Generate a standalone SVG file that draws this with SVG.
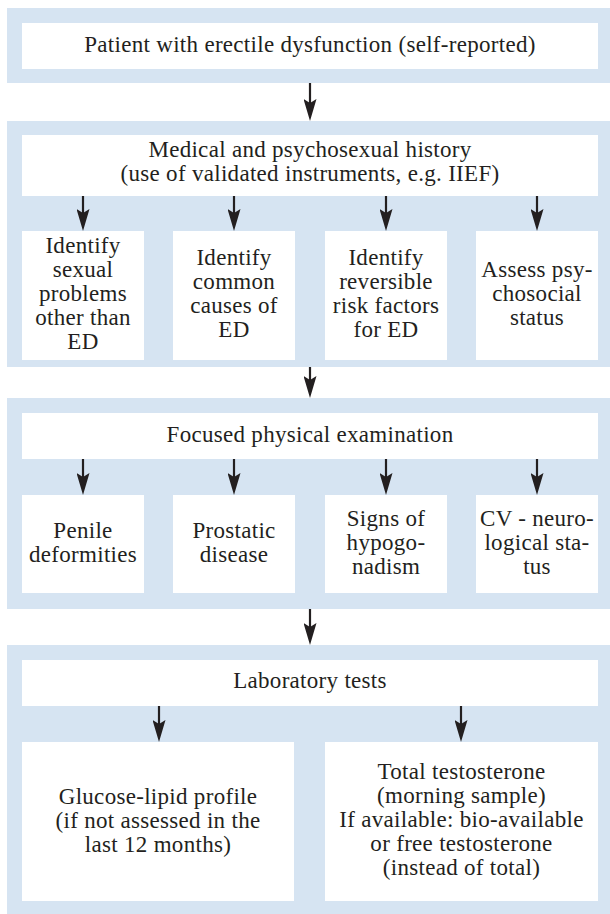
<svg xmlns="http://www.w3.org/2000/svg" width="610" height="914" viewBox="0 0 610 914" font-family="'Liberation Serif', 'Times New Roman', 'DejaVu Serif', serif">
<defs>
<style>
.panel{fill:#d6e4f2}
.box{fill:#ffffff}
text{font-family:'Liberation Serif','Times New Roman','DejaVu Serif',serif;font-size:23px;letter-spacing:0.3px;fill:#231f20;text-anchor:middle}
.arr{stroke:#231f20;stroke-width:2.2;fill:none;marker-end:url(#head)}
</style>
<marker id="head" viewBox="0 0 22 13" markerWidth="22" markerHeight="13" refX="6" refY="6.5" orient="auto" markerUnits="userSpaceOnUse">
<path d="M0,0 L22,6.5 L0,13 L4,6.5 z" fill="#231f20"/>
</marker>
</defs>
<rect width="610" height="914" fill="#ffffff"/>

<g id="panel1">
<rect class="panel" x="7" y="8" width="603" height="75"/>
<g id="n-patient"><rect class="box" x="22" y="23" width="576" height="46"/>
<text x="310" y="52">Patient with erectile dysfunction (self-reported)</text></g>
</g>

<g id="panel2">
<rect class="panel" x="7" y="121" width="603" height="246"/>
<g id="n-history"><rect class="box" x="22" y="135" width="576" height="61"/>
<text x="310" y="157">Medical and psychosexual history</text>
<text x="310" y="181">(use of validated instruments, e.g. IIEF)</text></g>
<g id="n-sexual"><rect class="box" x="22" y="231" width="122" height="129"/>
<text x="83" y="253">Identify</text><text x="83" y="277">sexual</text><text x="83" y="301">problems</text><text x="83" y="325">other than</text><text x="83" y="349">ED</text></g>
<g id="n-causes"><rect class="box" x="173" y="231" width="122" height="129"/>
<text x="234" y="265">Identify</text><text x="234" y="289">common</text><text x="234" y="313">causes of</text><text x="234" y="337">ED</text></g>
<g id="n-risk"><rect class="box" x="325" y="231" width="122" height="129"/>
<text x="386" y="265">Identify</text><text x="386" y="289">reversible</text><text x="386" y="313">risk factors</text><text x="386" y="337">for ED</text></g>
<g id="n-psycho"><rect class="box" x="476" y="231" width="122" height="129"/>
<text x="537" y="277">Assess psy-</text><text x="537" y="301">chosocial</text><text x="537" y="325">status</text></g>
</g>

<g id="panel3">
<rect class="panel" x="7" y="398" width="603" height="211"/>
<g id="n-exam"><rect class="box" x="22" y="413" width="576" height="46"/>
<text x="310" y="442">Focused physical examination</text></g>
<g id="n-penile"><rect class="box" x="22" y="495" width="122" height="98"/>
<text x="83" y="538">Penile</text><text x="83" y="562">deformities</text></g>
<g id="n-prostatic"><rect class="box" x="173" y="495" width="122" height="98"/>
<text x="234" y="538">Prostatic</text><text x="234" y="562">disease</text></g>
<g id="n-hypo"><rect class="box" x="325" y="495" width="122" height="98"/>
<text x="386" y="526">Signs of</text><text x="386" y="550">hypogo-</text><text x="386" y="574">nadism</text></g>
<g id="n-cv"><rect class="box" x="476" y="495" width="122" height="98"/>
<text x="537" y="526">CV - neuro-</text><text x="537" y="550">logical sta-</text><text x="537" y="574">tus</text></g>
</g>

<g id="panel4">
<rect class="panel" x="7" y="645" width="603" height="269"/>
<g id="n-lab"><rect class="box" x="22" y="660" width="576" height="46"/>
<text x="310" y="688">Laboratory tests</text></g>
<g id="n-glucose"><rect class="box" x="22" y="742" width="272" height="159"/>
<text x="158" y="804">Glucose-lipid profile</text><text x="158" y="828">(if not assessed in the</text><text x="158" y="852">last 12 months)</text></g>
<g id="n-testo"><rect class="box" x="325" y="742" width="273" height="159"/>
<text x="461.5" y="779">Total testosterone</text><text x="461.5" y="803">(morning sample)</text><text x="461.5" y="827">If available: bio-available</text><text x="461.5" y="851">or free testosterone</text><text x="461.5" y="875">(instead of total)</text></g>
</g>

<g id="connectors">
<line class="arr" x1="310" y1="83" x2="310" y2="105"/>
<line class="arr" x1="83" y1="196" x2="83" y2="215"/>
<line class="arr" x1="234" y1="196" x2="234" y2="215"/>
<line class="arr" x1="386" y1="196" x2="386" y2="215"/>
<line class="arr" x1="537" y1="196" x2="537" y2="215"/>
<line class="arr" x1="310" y1="367" x2="310" y2="382"/>
<line class="arr" x1="83" y1="459" x2="83" y2="479"/>
<line class="arr" x1="234" y1="459" x2="234" y2="479"/>
<line class="arr" x1="386" y1="459" x2="386" y2="479"/>
<line class="arr" x1="537" y1="459" x2="537" y2="479"/>
<line class="arr" x1="310" y1="609" x2="310" y2="629"/>
<line class="arr" x1="159" y1="706" x2="159" y2="726"/>
<line class="arr" x1="461" y1="706" x2="461" y2="726"/>
</g>
</svg>
